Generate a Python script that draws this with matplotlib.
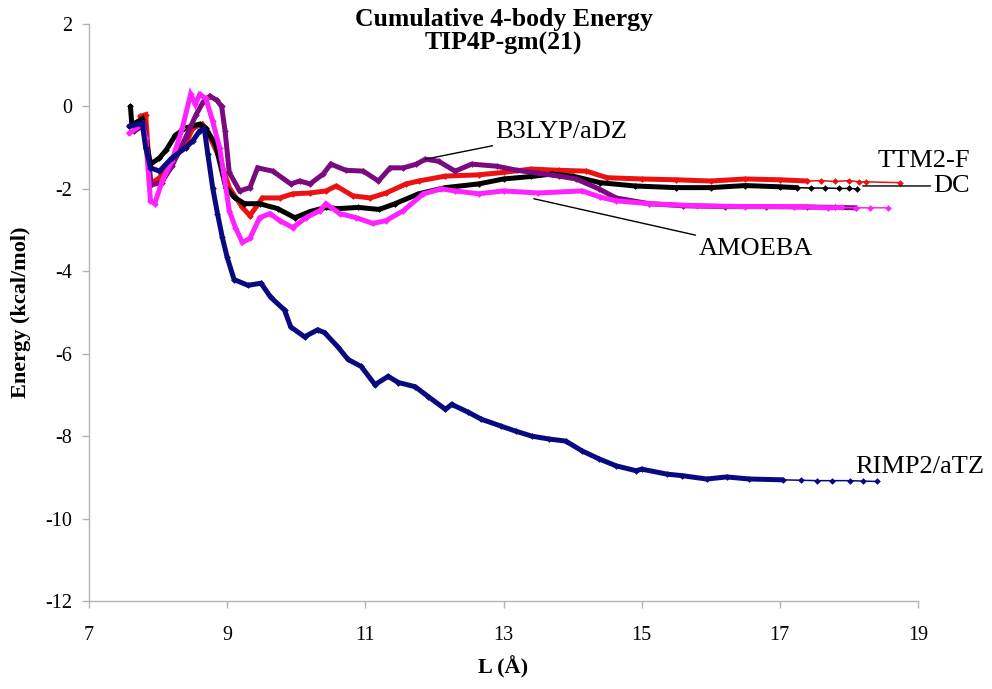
import numpy as np
import matplotlib
matplotlib.use("Agg")
import matplotlib.pyplot as plt

plt.rcParams['font.family'] = ['Liberation Serif', 'DejaVu Serif']
plt.rcParams['axes.unicode_minus'] = False

# values
dc_x = [7.60, 7.62, 7.77, 7.89, 8.02, 8.12, 8.25, 8.40, 8.60, 8.69, 8.83, 8.98, 9.10,
        9.25, 9.47, 9.73, 9.98, 10.2, 10.43, 10.6, 10.9, 11.2, 11.43, 11.77, 12.16,
        12.64, 13.0, 13.4, 13.7, 14.0, 14.4, 14.9, 15.5, 16.0, 16.5, 17.0, 17.25,
        17.45, 17.65, 17.85, 18.0, 18.12]
dc_y = [0.00, -0.45, -0.30, -1.40, -1.25, -1.05, -0.70, -0.52, -0.43, -0.53, -0.92, -1.97, -2.20,
        -2.36, -2.36, -2.48, -2.70, -2.55, -2.45, -2.48, -2.45, -2.50, -2.36, -2.12, -1.97,
        -1.88, -1.76, -1.70, -1.64, -1.69, -1.85, -1.93, -1.97, -1.97, -1.92, -1.95, -1.97,
        -1.98, -1.98, -1.99, -1.99, -2.00]

ttm_x = [7.74, 7.82, 7.89, 8.02, 8.20, 8.40, 8.50, 8.64, 8.71, 8.89, 9.03, 9.22, 9.33,
         9.51, 9.76, 9.95, 10.2, 10.43, 10.58, 10.82, 11.07, 11.3, 11.59, 11.77, 12.16,
         12.64, 13.0, 13.4, 13.8, 14.2, 14.5, 15.0, 15.5, 16.0, 16.5, 17.0, 17.4,
         17.6, 17.8, 18.0, 18.15, 18.25, 18.74]
ttm_y = [-0.24, -0.20, -1.88, -1.73, -1.33, -0.92, -0.53, -0.43, -0.60, -1.25, -1.97, -2.45, -2.65,
         -2.22, -2.22, -2.12, -2.10, -2.05, -1.93, -2.17, -2.22, -2.10, -1.88, -1.81, -1.69,
         -1.66, -1.60, -1.52, -1.55, -1.57, -1.73, -1.76, -1.78, -1.81, -1.76, -1.78, -1.81,
         -1.80, -1.82, -1.80, -1.83, -1.83, -1.85]

b3lyp_x = [7.65, 7.80, 7.90, 8.05, 8.20, 8.40, 8.55, 8.65, 8.75, 8.85, 8.92, 8.97, 9.03,
           9.18, 9.33, 9.44, 9.66, 9.92, 10.05, 10.2, 10.39, 10.5, 10.72, 10.97, 11.19,
           11.36, 11.55, 11.74, 11.87, 12.06, 12.3, 12.54, 12.9, 13.2, 13.5, 13.8, 14.05,
           14.38, 14.63, 15.11, 15.6, 16.2, 16.8, 17.4, 17.8, 18.1]
b3lyp_y = [-0.60, -0.45, -1.90, -1.85, -1.45, -0.75, -0.20, 0.10, 0.25, 0.15, 0.00, -0.60, -1.60,
           -2.05, -1.97, -1.49, -1.57, -1.88, -1.81, -1.88, -1.64, -1.40, -1.55, -1.57, -1.81,
           -1.49, -1.49, -1.40, -1.28, -1.33, -1.57, -1.40, -1.45, -1.55, -1.62, -1.69, -1.76,
           -2.00, -2.22, -2.36, -2.41, -2.43, -2.43, -2.44, -2.45, -2.46]

amoeba_x = [7.58, 7.77, 7.82, 7.89, 7.95, 8.06, 8.20, 8.35, 8.47, 8.54, 8.60, 8.69, 8.79,
            8.89, 8.96, 9.03, 9.12, 9.22, 9.33, 9.47, 9.62, 9.76, 9.95, 10.14, 10.34,
            10.43, 10.63, 10.87, 11.11, 11.3, 11.55, 11.84, 12.1, 12.3, 12.64, 13.0, 13.5,
            14.14, 14.4, 14.63, 15.11, 15.8, 16.5, 17.2, 17.7, 17.9, 18.1, 18.3, 18.57]
amoeba_y = [-0.65, -0.43, -0.77, -2.29, -2.36, -1.81, -1.33, -0.53, 0.29, 0.05, 0.29, 0.20, -0.36,
            -1.00, -1.73, -2.53, -2.94, -3.30, -3.20, -2.70, -2.60, -2.77, -2.94, -2.70, -2.53,
            -2.36, -2.60, -2.70, -2.84, -2.77, -2.53, -2.12, -2.00, -2.05, -2.12, -2.05, -2.10,
            -2.05, -2.20, -2.29, -2.36, -2.41, -2.43, -2.43, -2.46, -2.45, -2.46, -2.46, -2.46]

rimp2_x = [7.58, 7.77, 7.82, 7.89, 8.02, 8.20, 8.40, 8.50, 8.60, 8.67, 8.72, 8.79, 8.86,
           8.93, 9.00, 9.10, 9.30, 9.49, 9.63, 9.83, 9.92, 10.12, 10.31, 10.41, 10.60,
           10.75, 10.94, 11.14, 11.33, 11.48, 11.72, 11.91, 12.16, 12.25, 12.49, 12.68, 12.97,
           13.18, 13.41, 13.66, 13.9, 14.14, 14.38, 14.63, 14.92, 15.0, 15.36, 15.59, 15.94,
           16.23, 16.56, 17.04, 17.3, 17.54, 17.75, 18.02, 18.2, 18.41]
rimp2_y = [-0.48, -0.41, -1.00, -1.49, -1.57, -1.25, -1.00, -0.84, -0.60, -0.55, -1.16, -1.97, -2.60,
           -3.18, -3.66, -4.20, -4.34, -4.29, -4.63, -4.94, -5.35, -5.59, -5.42, -5.49, -5.83,
           -6.14, -6.31, -6.75, -6.55, -6.70, -6.80, -7.04, -7.35, -7.23, -7.42, -7.59, -7.76,
           -7.88, -8.00, -8.07, -8.12, -8.36, -8.55, -8.72, -8.84, -8.80, -8.92, -8.96, -9.04,
           -8.99, -9.04, -9.06, -9.07, -9.08, -9.08, -9.08, -9.09, -9.10]

series = [
    # x, y, colour, x where the dense part ends
    (ttm_x, ttm_y, '#ee1111', 17.4),
    (dc_x, dc_y, '#000000', 17.25),
    (b3lyp_x, b3lyp_y, '#7a0a80', 18.1),
    (amoeba_x, amoeba_y, '#ff22ff', 18.0),
    (rimp2_x, rimp2_y, '#0a0a80', 17.04),
]

fig = plt.figure(figsize=(9.92, 6.89), dpi=100)
ax = fig.add_axes([89 / 992, 88 / 689, 829 / 992, 577 / 689])

for xs, ys, col, dense_end in series:
    xs = np.array(xs)
    ys = np.array(ys)
    m = xs <= dense_end
    ax.plot(xs[m], ys[m], color=col, lw=3.6, solid_capstyle='round',
            solid_joinstyle='miter')
    ax.plot(xs, ys, color=col, lw=1.1, marker='D', ms=3.4, markeredgewidth=0)

ax.set_xlim(7, 19)
ax.set_ylim(-12, 2)
ax.set_xticks(np.arange(7, 20, 2))
ax.set_yticks(np.arange(-12, 3, 2))

for s in ['top', 'right']:
    ax.spines[s].set_visible(False)
for s in ['left', 'bottom']:
    ax.spines[s].set_color('#b4b4b4')
    ax.spines[s].set_linewidth(1.0)
ax.tick_params(direction='out', length=5, width=1, color='#b4b4b4', labelsize=14.5)
ax.tick_params(axis='x', pad=13)
ax.tick_params(axis='y', pad=7)

ax.set_xlabel('L (Å)', fontsize=16, fontweight='bold')
ax.set_ylabel('Energy (kcal/mol)', fontsize=16, fontweight='bold')
ax.xaxis.set_label_coords(0.5, -0.095)
ax.yaxis.set_label_coords(-0.07, 0.5)

ax.text(0.5, 1.007, 'Cumulative 4-body Energy', transform=ax.transAxes,
        ha='center', va='center', fontsize=18.5, fontweight='bold')
ax.text(0.5, 0.966, 'TIP4P-gm(21)', transform=ax.transAxes,
        ha='center', va='center', fontsize=18.5, fontweight='bold')

# curve labels with leader lines
lead = dict(arrowstyle='-', color='black', lw=1.0, shrinkA=0, shrinkB=0)
ax.annotate('B3LYP/aDZ', xy=(11.87, -1.28), xytext=(12.88, -0.62),
            fontsize=19, va='center', ha='left', arrowprops=lead)
ax.annotate('AMOEBA', xy=(13.44, -2.24), xytext=(15.82, -3.45),
            fontsize=19, va='center', ha='left', arrowprops=lead)
ax.annotate('DC', xy=(18.2, -1.93), xytext=(19.22, -1.93),
            fontsize=19, va='center', ha='left', arrowprops=lead,
            annotation_clip=False)
ax.text(18.41, -1.33, 'TTM2-F', fontsize=19, va='center', ha='left')
ax.text(18.09, -8.75, 'RIMP2/aTZ', fontsize=19, va='center', ha='left')

fig.savefig('out.png', dpi=100)
